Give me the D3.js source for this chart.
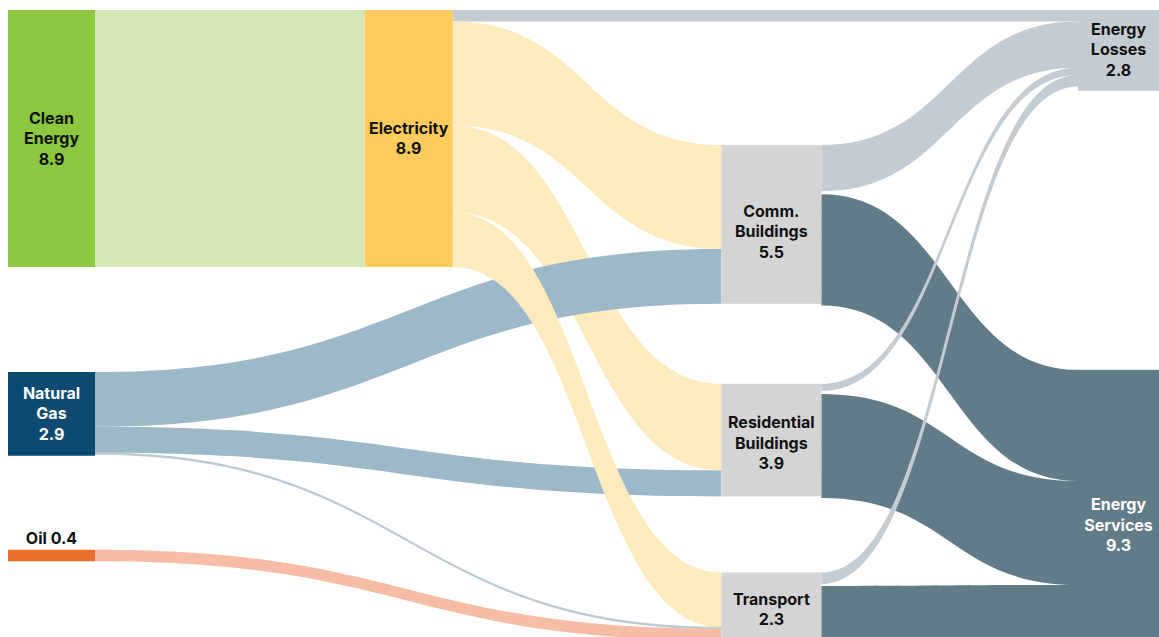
<!DOCTYPE html>
<html>

<head>
    <meta charset="UTF-8">
    <title>Energy flows</title>
    <style>
        body {
            margin: 0;
            background: #fff;
            font-family: Inter, 'Noto Sans', sans-serif;
        }

        .label {
            font-size: 16px;
            font-weight: 700;
            text-anchor: middle;
        }
    </style>
</head>

<body>
    <script src="https://cdn.jsdelivr.net/npm/d3@7"></script>
    <script>
        /// data

        var nodeNames = ["Clean Energy", "Electricity", "Natural Gas", "Oil",
            "Comm. Buildings", "Residential Buildings", "Transport",
            "Energy Losses", "Energy Services"];
        var nodeValues = [8.9, 8.9, 2.9, 0.4, 5.5, 3.9, 2.3, 2.8, 9.3];
        var nodeLines = [["Clean", "Energy"], ["Electricity"], ["Natural", "Gas"], ["Oil"],
            ["Comm.", "Buildings"], ["Residential", "Buildings"], ["Transport"],
            ["Energy", "Losses"], ["Energy", "Services"]];

        // links, listed in drawing order
        var linkSources = ["Clean Energy", "Electricity", "Electricity", "Electricity",
            "Natural Gas", "Natural Gas", "Electricity", "Natural Gas", "Oil",
            "Comm. Buildings", "Residential Buildings", "Transport",
            "Comm. Buildings", "Residential Buildings", "Transport"];
        var linkTargets = ["Electricity", "Energy Losses", "Comm. Buildings", "Residential Buildings",
            "Comm. Buildings", "Residential Buildings", "Transport", "Transport", "Transport",
            "Energy Services", "Energy Services", "Energy Services",
            "Energy Losses", "Energy Losses", "Energy Losses"];
        var linkValues = [8.9, 0.4, 3.6, 3.0,
            1.9, 0.9, 1.9, 0.05, 0.4,
            3.85, 3.6, 1.8,
            1.6, 0.25, 0.4];

        /// layout + style params

        var width = 1159,
            height = 637;
        var nodeColumn = [0, 1, 0, 0, 2, 2, 2, 3, 3];
        var columnWidth = [87, 88, 100, 81];
        var columnTop = [10, 10, 145, 10];
        var columnGaps = [[105, 94], [], [80, 76], [279]]; // px between stacked nodes
        var sourceGap = [0, 0, 0, 0, 3, 3, 2, 0, 0]; // px between a node's outgoing links
        var labelShift = [0, 0, 0, 0, 7, 3, 4, -1, 21];
        var lineHeight = 20.5;

        var nodeColor = {
            "Clean Energy": "#8dc63f",
            "Electricity": "#fecb5c",
            "Natural Gas": "#0d4a70",
            "Oil": "#e8702a",
            "Comm. Buildings": "#d4d4d4",
            "Residential Buildings": "#d4d4d4",
            "Transport": "#d4d4d4",
            "Energy Losses": "#c4ccd3",
            "Energy Services": "#617b88"
        };
        var whiteText = ["Natural Gas", "Energy Services"];

        function linkColor(l) {
            if (l.source.name == "Clean Energy") return "#d5e6b6";
            if (l.target.name == "Energy Losses") return "#c4ccd3";
            if (l.target.name == "Energy Services") return "#617b88";
            if (l.source.name == "Electricity") return "#fdeabd";
            if (l.source.name == "Oil") return "#f6bda6";
            if (l.value < 0.1) return "#b9c6d2";
            return "#9db9c9";
        }

        /// scales

        var x = d3.scaleLinear().domain([0, 3]).range([8, 1078]);
        var y = d3.scaleLinear().domain([0, 8.9]).range([0, 257]);

        /// layout

        var nodes = nodeNames.map(function(n, i) {
            return {
                name: n,
                value: nodeValues[i],
                lines: nodeLines[i],
                col: nodeColumn[i],
                shift: labelShift[i],
                gap: sourceGap[i],
                out: [],
                inc: []
            };
        });
        var byName = {};
        nodes.forEach(function(n) { byName[n.name] = n; });

        d3.range(4).forEach(function(c) {
            var yy = columnTop[c];
            nodes.filter(function(n) { return n.col == c; }).forEach(function(n, i) {
                n.x0 = x(c);
                n.x1 = x(c) + columnWidth[c];
                n.y0 = yy;
                n.y1 = yy + y(n.value);
                yy = n.y1 + (columnGaps[c][i] || 0);
            });
        });

        var links = linkValues.map(function(v, i) {
            var l = {
                source: byName[linkSources[i]],
                target: byName[linkTargets[i]],
                value: v,
                width: y(v)
            };
            l.source.out.push(l);
            l.target.inc.push(l);
            return l;
        });

        nodes.forEach(function(n) {
            var sy = n.y0;
            n.out.slice().sort(function(a, b) { return a.target.y0 - b.target.y0; })
                .forEach(function(l) {
                    l.sy0 = sy;
                    l.sy1 = sy + l.width;
                    sy += l.width + n.gap;
                });
            var ty = n.y0;
            n.inc.slice().sort(function(a, b) { return a.source.y0 - b.source.y0; })
                .forEach(function(l) {
                    l.ty0 = ty;
                    l.ty1 = ty + l.width;
                    ty += l.width;
                });
        });

        // ribbon with constant vertical thickness (top and bottom edges are separate curves)
        function ribbon(d) {
            var x0 = d.source.x1,
                x1 = d.target.x0,
                xm = (x0 + x1) / 2;
            var p = d3.path();
            p.moveTo(x0, d.sy0);
            p.bezierCurveTo(xm, d.sy0, xm, d.ty0, x1, d.ty0);
            p.lineTo(x1, d.ty1);
            p.bezierCurveTo(xm, d.ty1, xm, d.sy1, x0, d.sy1);
            p.closePath();
            return p.toString();
        }

        /// draw

        var svg = d3.select("body").append("svg")
            .attr("width", width)
            .attr("height", height);

        svg.append("g")
            .attr("class", "links")
            .selectAll("path")
            .data(links)
            .enter().append("path")
            .attr("d", ribbon)
            .attr("fill", linkColor)
            .attr("stroke", function(d) { return d.value < 0.1 ? linkColor(d) : "none"; })
            .attr("stroke-width", 0.8);

        svg.append("g")
            .attr("class", "nodes")
            .selectAll("rect")
            .data(nodes)
            .enter().append("rect")
            .attr("x", function(d) { return d.x0; })
            .attr("y", function(d) { return d.y0; })
            .attr("width", function(d) { return d.x1 - d.x0; })
            .attr("height", function(d) { return d.y1 - d.y0; })
            .attr("fill", function(d) { return nodeColor[d.name]; });

        var labels = svg.append("g")
            .attr("class", "labels")
            .selectAll("text")
            .data(nodes)
            .enter().append("text")
            .attr("class", "label")
            .attr("fill", function(d) { return whiteText.indexOf(d.name) >= 0 ? "#fff" : "#111"; });

        labels.each(function(d) {
            var t = d3.select(this);
            var cx = (d.x0 + d.x1) / 2;
            if (d.name == "Oil") {
                // small node: label sits above it
                t.append("tspan")
                    .attr("x", cx)
                    .attr("y", d.y0 - 6)
                    .text(d.lines[0] + " " + d3.format(".1f")(d.value));
                return;
            }
            var lines = d.lines.concat([d3.format(".1f")(d.value)]);
            var cy = (d.y0 + d.y1) / 2 + d.shift;
            var first = cy - (lines.length - 1) * lineHeight / 2;
            lines.forEach(function(s, i) {
                t.append("tspan")
                    .attr("x", cx)
                    .attr("y", first + i * lineHeight)
                    .attr("dy", "0.35em")
                    .text(s);
            });
        });
    </script>
</body>

</html>
